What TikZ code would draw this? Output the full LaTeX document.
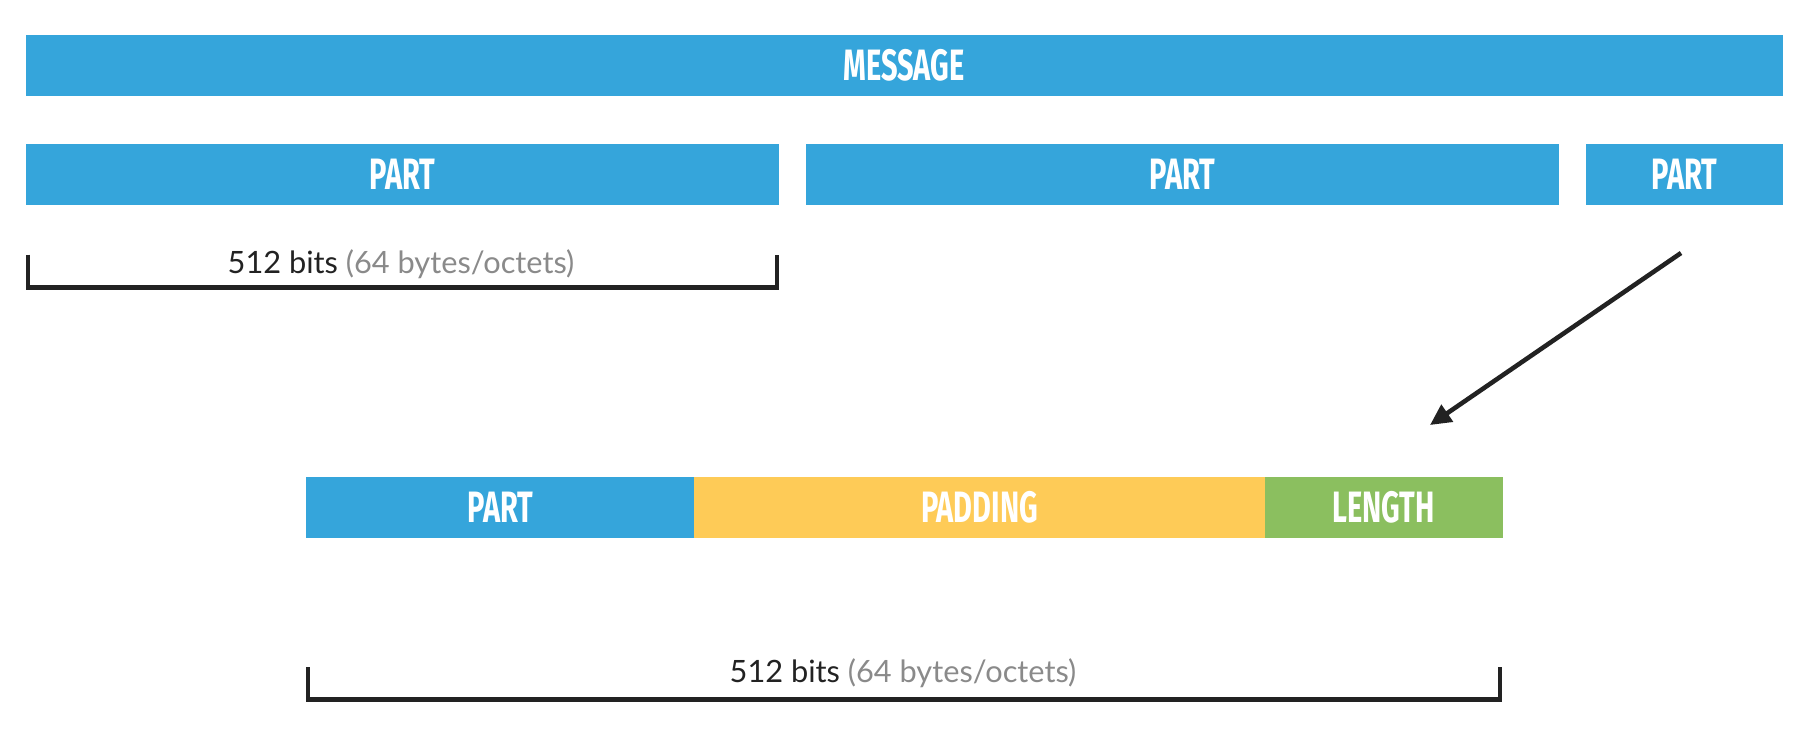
\documentclass[tikz,border=0pt]{standalone}
\usepackage{fontspec}
\setmainfont{Lato}
\newfontfamily\barfont[FakeStretch=0.66]{Fira Sans}
\usetikzlibrary{positioning,arrows.meta}

\begin{document}
\begin{tikzpicture}[x=0.02cm,y=-0.02cm,
    bar/.style={fill=#1,draw=#1,line width=0.3pt,text=white,inner sep=0pt,
      minimum height=1.2cm,anchor=north west,
      font=\barfont\bfseries\fontsize{25}{25}\selectfont},
    bracket/.style={draw=kDark,line width=2.3pt},
    sizelabel/.style={text=kDark,font=\fontsize{17.5}{20}\selectfont},
    pointer/.style={draw=kDark,line width=2.6pt,-{Triangle[length=0.42cm,width=0.4cm]}},
    node distance=0pt]
  \definecolor{kBlue}{HTML}{35A5DB}
  \definecolor{kYellow}{HTML}{FECB57}
  \definecolor{kGreen}{HTML}{8BBF5F}
  \definecolor{kDark}{HTML}{222222}
  \definecolor{kGrey}{HTML}{8A8A8A}

  \useasboundingbox (0,0) rectangle (1814,746);

  \node[bar=kBlue,minimum width=35.12cm] (message) at (26,35) {MESSAGE};
  \foreach \name/\x/\w in {partA/26/752,partB/806/752,partC/1586/196}
    \node[bar=kBlue,minimum width=\w*0.02cm] (\name) at (\x,144) {PART};

  \node[sizelabel] (sizeA) at (401,264) {512 bits \textcolor{kGrey}{(64 bytes/octets)}};
  \draw[bracket] ([xshift=0.04cm,yshift=-1cm]partA.south west)
    |- ([xshift=-0.04cm,yshift=-1.66cm]partA.south east)
    -- ([xshift=-0.04cm,yshift=-1cm]partA.south east);

  \coordinate (arrowFrom) at (1681,253);
  \coordinate (arrowTo) at (1430,425);
  \draw[pointer] (arrowFrom) -- (arrowTo);

  \node[bar=kBlue,minimum width=7.76cm] (tailPart) at (306,477) {PART};
  \node[bar=kYellow,minimum width=11.4cm,right=of tailPart] (padding) {PADDING};
  \node[bar=kGreen,minimum width=4.74cm,right=of padding] (length) {LENGTH};

  \node[sizelabel] (sizeB) at (903,673) {512 bits \textcolor{kGrey}{(64 bytes/octets)}};
  \draw[bracket] ([xshift=0.04cm,yshift=-2.6cm]tailPart.south west)
    |- ([xshift=-0.04cm,yshift=-3.24cm]length.south east)
    -- ([xshift=-0.04cm,yshift=-2.6cm]length.south east);
\end{tikzpicture}
\end{document}
